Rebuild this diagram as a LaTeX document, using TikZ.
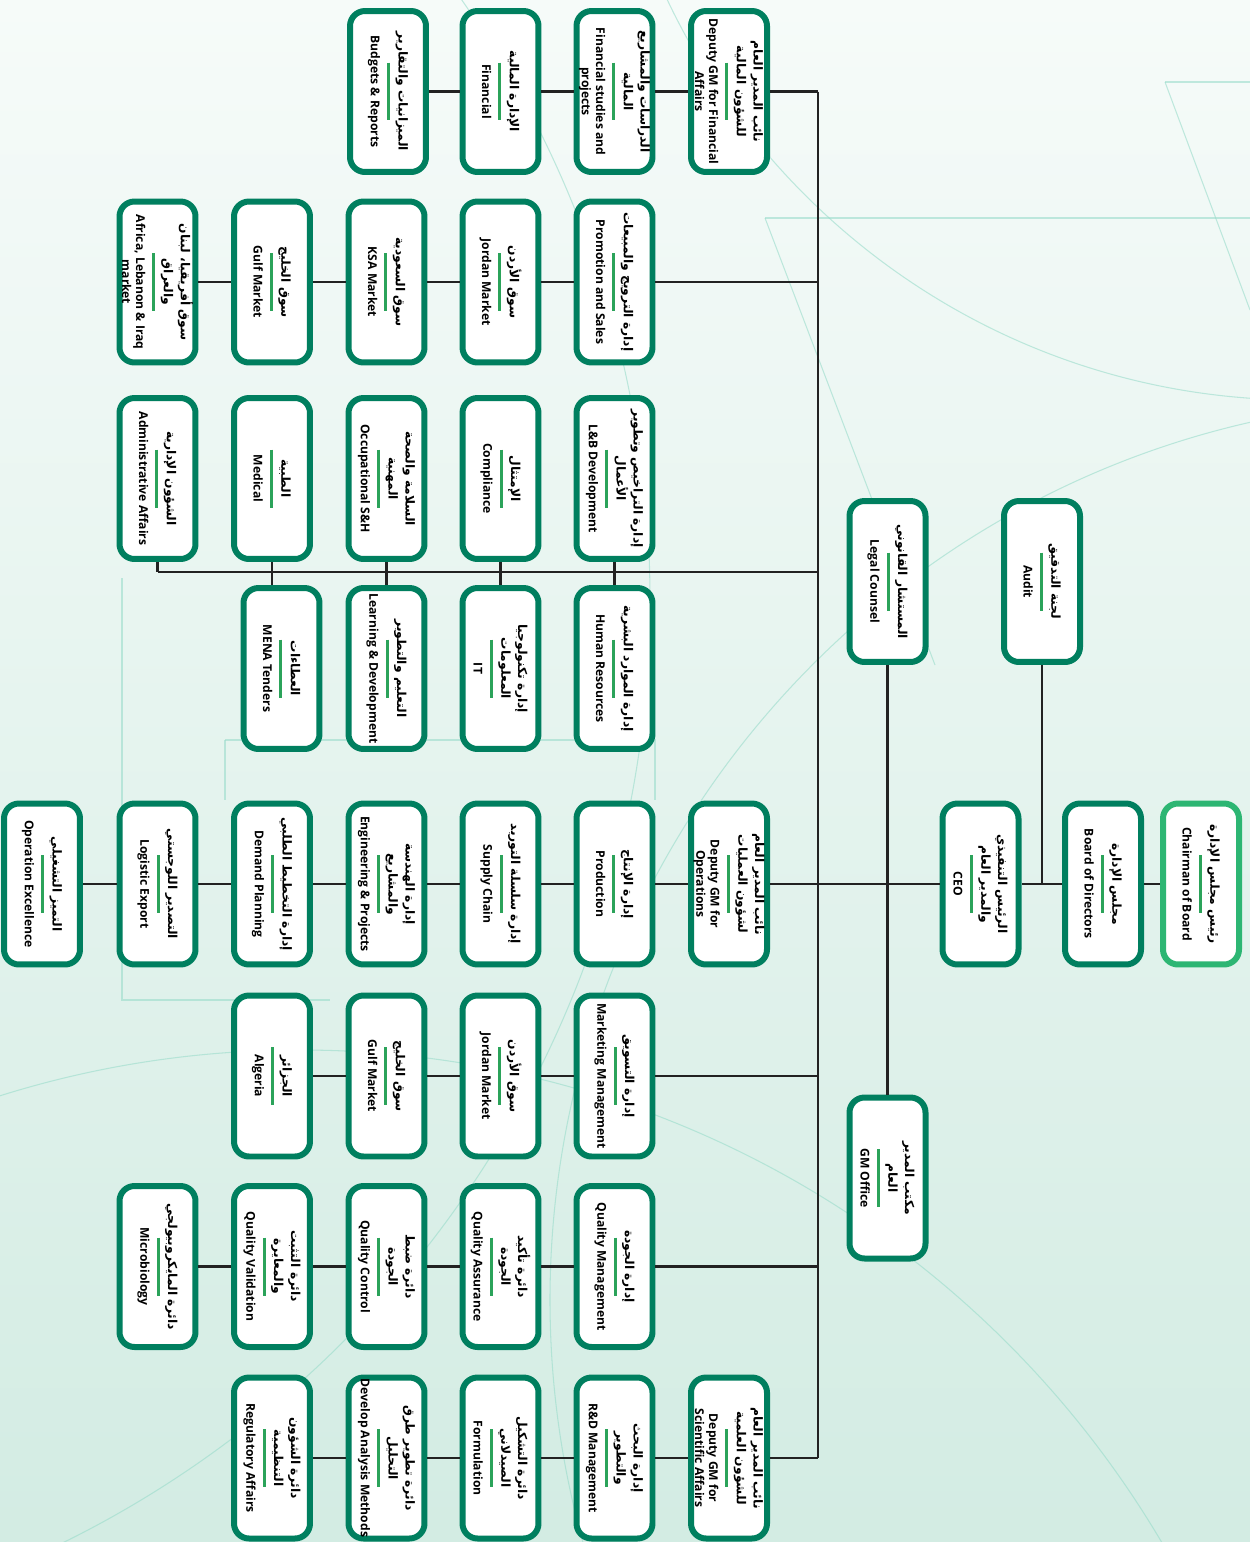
\documentclass[tikz,border=0pt]{standalone}
\usepackage{fontspec}
\setmainfont{Open Sans}
\newfontfamily\enfont{Open Sans}
\newfontfamily\arabicfont[Script=Arabic]{DejaVu Sans}
\TeXXeTstate=1
\definecolor{boxgreen}{HTML}{007F5F}
\definecolor{chairgreen}{HTML}{2DB673}
\definecolor{rulegreen}{HTML}{2BA35A}
\definecolor{linecol}{HTML}{222222}
\definecolor{bgtop}{HTML}{F6FBF9}
\definecolor{bgbot}{HTML}{D3ECE3}
\definecolor{decocol}{HTML}{9ADCCB}
\newcommand{\AR}[1]{{\arabicfont\bfseries\fontsize{7}{0}\selectfont\beginR #1\endR}}
\newcommand{\EN}[1]{{\enfont\bfseries\fontsize{6.9}{0}\selectfont #1}}
\newcommand{\GR}{\textcolor{rulegreen}{\rule{1.16cm}{0.06cm}}}
\newcommand{\orgnodefont}{\fontsize{7}{0}\selectfont\lineskiplimit=-100pt\lineskip=0pt\relax}
% line feeds: between Arabic lines, Arabic->rule, rule->English, between English lines
\newcommand{\nA}{\\[9.6pt]}
\newcommand{\nR}{\\[6.6pt]}
\newcommand{\nE}{\\[9.2pt]}
\newcommand{\nB}{\\[8pt]}
\tikzset{
  org/.style={draw=boxgreen, line width=0.12cm, rounded corners=0.3cm, fill=white,
    rotate=-90, minimum width=3.22cm, minimum height=1.52cm, align=center,
    inner sep=0pt, font=\orgnodefont},
  chair/.style={org, draw=chairgreen},
  link/.style={draw=linecol, line width=0.055cm},
  deco/.style={draw=decocol, line width=0.6pt, opacity=0.6},
}
\begin{document}
\begin{tikzpicture}[x=0.02cm, y=-0.02cm]
\useasboundingbox (0,0) rectangle (1250,1542);
\shade[top color=bgtop, bottom color=bgbot] (0,0) rectangle (1250,1542);
\begin{scope}
\clip (0,0) rectangle (1250,1542);
\draw[deco] (1165,82) -- (1250,82);
\draw[deco] (1165,82) -- (1250,310);
\draw[deco] (765,218) -- (1250,218);
\draw[deco] (765,218) -- (935,665);
\draw[deco] (122,578) -- (122,1000) -- (330,1000);
\draw[deco] (225,740) -- (655,740) -- (655,800);
\draw[deco] (225,740) -- (225,800);
\draw[deco] (1450,1300) circle (900);
\draw[deco] (300,2050) circle (1000);
\draw[deco] (1300,-300) circle (700);
\draw[deco] (-400,600) circle (1050);
\end{scope}

% top level
\node[chair] (chair) at (1201,884) {\AR{رئيس مجلس الإدارة}\nR\GR\nE\EN{Chairman of Board}};
\node[org] (board) at (1103,884) {\AR{مجلس الإدارة}\nR\GR\nE\EN{Board of Directors}};
\node[org] (ceo) at (980.5,884) {\AR{الرئيس التنفيذي}\nA\AR{والمدير العام}\nR\GR\nE\EN{CEO}};
\node[org] (audit) at (1042,581.5) {\AR{لجنة التدقيق}\nR\GR\nE\EN{Audit}};
\node[org] (legal) at (887.5,581.5) {\AR{المستشار القانوني}\nR\GR\nE\EN{Legal Counsel}};
\node[org] (gmo) at (887.5,1178) {\AR{مكتب المدير}\nA\AR{العام}\nR\GR\nE\EN{GM Office}};

% row 1 financial
\node[org] (dgf) at (729,91.5) {\AR{نائب المدير العام}\nA\AR{للشؤون المالية}\nR\GR\nE\EN{Deputy GM for Financial}\nB\EN{Affairs}};
\node[org] (fs) at (614.5,91.5) {\AR{الدراسات والمشاريع}\nA\AR{المالية}\nR\GR\nE\EN{Financial studies and}\nB\EN{projects}};
\node[org] (fin) at (500.5,91.5) {\AR{الإدارة المالية}\nR\GR\nE\EN{Financial}};
\node[org] (bud) at (388,91.5) {\AR{الميزانيات والتقارير}\nR\GR\nE\EN{Budgets \& Reports}};

% row 2 promotion
\node[org] (ps) at (614.5,282) {\AR{إدارة الترويج والمبيعات}\nR\GR\nE\EN{Promotion and Sales}};
\node[org] (jm1) at (500.5,282) {\AR{سوق الأردن}\nR\GR\nE\EN{Jordan Market}};
\node[org] (ksa) at (386.5,282) {\AR{سوق السعودية}\nR\GR\nE\EN{KSA Market}};
\node[org] (gulf1) at (272,282) {\AR{سوق الخليج}\nR\GR\nE\EN{Gulf Market}};
\node[org] (afr) at (157.5,282) {\AR{سوق أفريقيا، لبنان}\nA\AR{والعراق}\nR\GR\nE\EN{Africa, Lebanon \& Iraq}\nB\EN{market}};

% row 3
\node[org] (lb) at (614.5,478.5) {\AR{إدارة التراخيص وتطوير}\nA\AR{الأعمال}\nR\GR\nE\EN{L\&B Development}};
\node[org] (comp) at (500.5,478.5) {\AR{الإمتثال}\nR\GR\nE\EN{Compliance}};
\node[org] (occ) at (386.5,478.5) {\AR{السلامة والصحة}\nA\AR{المهنية}\nR\GR\nE\EN{Occupational S\&H}};
\node[org] (med) at (272,478.5) {\AR{الطبية}\nR\GR\nE\EN{Medical}};
\node[org] (adm) at (157.5,478.5) {\AR{الشؤون الإدارية}\nR\GR\nE\EN{Administrative Affairs}};

% row 4
\node[org] (hr) at (614.5,668.5) {\AR{إدارة الموارد البشرية}\nR\GR\nE\EN{Human Resources}};
\node[org] (it) at (500.5,668.5) {\AR{إدارة تكنولوجيا}\nA\AR{المعلومات}\nR\GR\nE\EN{IT}};
\node[org] (ld) at (386.5,668.5) {\AR{التعليم والتطوير}\nR\GR\nE\EN{Learning \& Development}};
\node[org] (mena) at (281.5,668.5) {\AR{العطاءات}\nR\GR\nE\EN{MENA Tenders}};

% row 5 operations
\node[org] (dgo) at (729,884) {\AR{نائب المدير العام}\nA\AR{لشؤون العمليات}\nR\GR\nE\EN{Deputy GM for}\nB\EN{Operations}};
\node[org] (prod) at (614.5,884) {\AR{إدارة الإنتاج}\nR\GR\nE\EN{Production}};
\node[org] (sc) at (500.5,884) {\AR{إدارة سلسلة التوريد}\nR\GR\nE\EN{Supply Chain}};
\node[org] (eng) at (386.5,884) {\AR{إدارة الهندسة}\nA\AR{والمشاريع}\nR\GR\nE\EN{Engineering \& Projects}};
\node[org] (dp) at (272,884) {\AR{إدارة التخطيط الطلبي}\nR\GR\nE\EN{Demand Planning}};
\node[org] (le) at (157.5,884) {\AR{التصدير اللوجستي}\nR\GR\nE\EN{Logistic Export}};
\node[org] (oe) at (42,884) {\AR{التميز التشغيلي}\nR\GR\nE\EN{Operation Excellence}};

% row 6 marketing
\node[org] (mk) at (614.5,1076) {\AR{إدارة التسويق}\nR\GR\nE\EN{Marketing Management}};
\node[org] (jm2) at (500.5,1076) {\AR{سوق الأردن}\nR\GR\nE\EN{Jordan Market}};
\node[org] (gulf2) at (386.5,1076) {\AR{سوق الخليج}\nR\GR\nE\EN{Gulf Market}};
\node[org] (alg) at (272,1076) {\AR{الجزائر}\nR\GR\nE\EN{Algeria}};

% row 7 quality
\node[org] (qm) at (614.5,1266.5) {\AR{إدارة الجودة}\nR\GR\nE\EN{Quality Management}};
\node[org] (qa) at (500.5,1266.5) {\AR{دائرة تأكيد}\nA\AR{الجودة}\nR\GR\nE\EN{Quality Assurance}};
\node[org] (qc) at (386.5,1266.5) {\AR{دائرة ضبط}\nA\AR{الجودة}\nR\GR\nE\EN{Quality Control}};
\node[org] (qv) at (272,1266.5) {\AR{دائرة التثبت}\nA\AR{والمعايرة}\nR\GR\nE\EN{Quality Validation}};
\node[org] (mic) at (157.5,1266.5) {\AR{دائرة المايكروبيولجي}\nR\GR\nE\EN{Microbiology}};

% row 8 scientific
\node[org] (dgs) at (729,1458) {\AR{نائب المدير العام}\nA\AR{للشؤون العلمية}\nR\GR\nE\EN{Deputy GM for}\nB\EN{Scientific Affairs}};
\node[org] (rd) at (614.5,1458) {\AR{إدارة البحث}\nA\AR{والتطوير}\nR\GR\nE\EN{R\&D Management}};
\node[org] (form) at (500.5,1458) {\AR{دائرة التشكيل}\nA\AR{الصيدلاني}\nR\GR\nE\EN{Formulation}};
\node[org] (dam) at (386.5,1458) {\AR{دائرة تطوير طرق}\nA\AR{التحليل}\nR\GR\nE\EN{Develop Analysis Methods}};
\node[org] (reg) at (272,1458) {\AR{دائرة الشؤون}\nA\AR{التنظيمية}\nR\GR\nE\EN{Regulatory Affairs}};

% connectors
\coordinate (spT) at (818,91.5);
\coordinate (spB) at (818,1458);
\coordinate (hrj) at (818,572);
\draw[link] (spT) -- (spB);
\draw[link] (chair) -- (board);
\draw[link] (board) -- (ceo);
\draw[link] (audit) -- (audit |- board);
\draw[link] (legal) -- (gmo);
\draw[link] (ceo) -- (dgo);
\draw[link] (dgf) -- (dgf -| spT);
\draw[link] (ps) -- (ps -| spT);
\draw[link] (mk) -- (mk -| spT);
\draw[link] (qm) -- (qm -| spT);
\draw[link] (dgs) -- (dgs -| spT);
\draw[link] (hrj) -- (adm.east |- hrj);
\draw[link] (lb) -- (hr);
\draw[link] (comp) -- (it);
\draw[link] (occ) -- (ld);
\draw[link] (med.east) -- (med.east |- mena.west);
\draw[link] (adm.east) -- (adm.east |- hrj);
\draw[link] (dgf) -- (fs); \draw[link] (fs) -- (fin); \draw[link] (fin) -- (bud);
\draw[link] (ps) -- (jm1); \draw[link] (jm1) -- (ksa); \draw[link] (ksa) -- (gulf1); \draw[link] (gulf1) -- (afr);
\draw[link] (dgo) -- (prod); \draw[link] (prod) -- (sc); \draw[link] (sc) -- (eng); \draw[link] (eng) -- (dp); \draw[link] (dp) -- (le); \draw[link] (le) -- (oe);
\draw[link] (mk) -- (jm2); \draw[link] (jm2) -- (gulf2); \draw[link] (gulf2) -- (alg);
\draw[link] (qm) -- (qa); \draw[link] (qa) -- (qc); \draw[link] (qc) -- (qv); \draw[link] (qv) -- (mic);
\draw[link] (dgs) -- (rd); \draw[link] (rd) -- (form); \draw[link] (form) -- (dam); \draw[link] (dam) -- (reg);
\end{tikzpicture}
\end{document}
